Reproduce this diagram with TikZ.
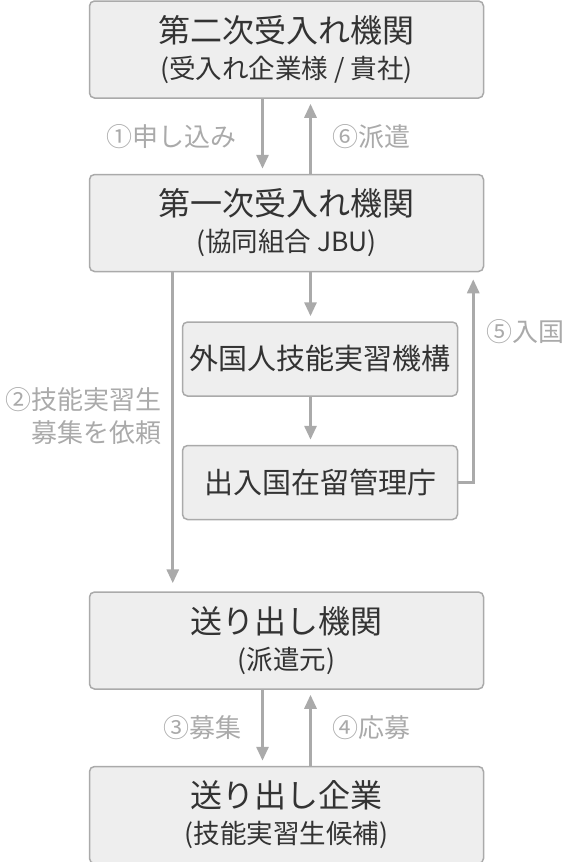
\documentclass[tikz,border=0pt]{standalone}
\usepackage{fontspec}
\setmainfont{Noto Sans CJK JP}
\usepackage{tikz}
\usetikzlibrary{arrows.meta,positioning,calc}
\definecolor{boxfill}{HTML}{EEEEEE}
\definecolor{boxline}{HTML}{AAAAAA}
\definecolor{arrowgray}{HTML}{AAAAAA}
\definecolor{textdark}{HTML}{333333}

\newcommand{\twoline}[2]{{\fontsize{32}{36}\selectfont #1}\\#2}

\begin{document}
\begin{tikzpicture}[x=1pt, y=1pt,
    bigbox/.style={draw=boxline, line width=1.5pt, fill=boxfill, rounded corners=5pt, minimum width=394pt, minimum height=97pt, align=center, text=textdark, inner sep=0pt, font=\fontsize{26.5}{36}\selectfont},
    smallbox/.style={draw=boxline, line width=1.5pt, fill=boxfill, rounded corners=5pt, minimum width=275pt, minimum height=74pt, align=center, text=textdark, font=\fontsize{29}{34}\selectfont},
    arr/.style={draw=arrowgray, line width=3pt, -{Triangle[width=12pt,length=14pt]}, shorten >=5pt},
    lbl/.style={text=arrowgray, font=\fontsize{26}{33}\selectfont, inner sep=0pt}]
  \useasboundingbox (0,0) rectangle (575,-862);
  \node[bigbox] (second) at (286.5,-49.5) {\twoline{第二次受入れ機関}{(受入れ企業様 / 貴社)}};
  \node[bigbox, below=75pt of second] (first) {\twoline{第一次受入れ機関}{(協同組合 JBU)}};
  \node[smallbox, anchor=north east] (otit) at ([xshift=-26pt, yshift=-49pt]first.south east) {外国人技能実習機構};
  \node[smallbox, below=48pt of otit] (imm) {出入国在留管理庁};
  \node[bigbox, below=319pt of first] (sendorg) {\twoline{送り出し機関}{(派遣元)}};
  \node[bigbox, below=76pt of sendorg] (sendco) {\twoline{送り出し企業}{(技能実習生候補)}};

  % top pair
  \draw[arr] ([xshift=-24pt]second.south) -- node[lbl, left=25pt] {①申し込み} ([xshift=-24pt]first.north);
  \draw[arr] ([xshift=24pt]first.north) -- node[lbl, right=20pt] {⑥派遣} ([xshift=24pt]second.south);

  % via the agencies
  \draw[arr] ([xshift=24pt]first.south) -- ([xshift=24pt]first.south |- otit.north);
  \draw[arr] ([xshift=24pt]first.south |- otit.south) -- ([xshift=24pt]first.south |- imm.north);
  \draw[arr, shorten >=7pt] (imm.east) -| node[lbl, pos=0.86, right=12pt] {⑤入国} ([xshift=-11pt]first.south east);

  % left line
  \draw[arr, shorten >=8pt] ([xshift=84pt]first.south west) -- node[lbl, pos=0.45, left=10pt, align=right] {②技能実習生\\募集を依頼} ([xshift=84pt]first.south west |- sendorg.north);

  % bottom pair
  \draw[arr] ([xshift=-24pt]sendorg.south) -- node[lbl, left=20pt] {③募集} ([xshift=-24pt]sendco.north);
  \draw[arr] ([xshift=24pt]sendco.north) -- node[lbl, right=20pt] {④応募} ([xshift=24pt]sendorg.south);
\end{tikzpicture}
\end{document}
